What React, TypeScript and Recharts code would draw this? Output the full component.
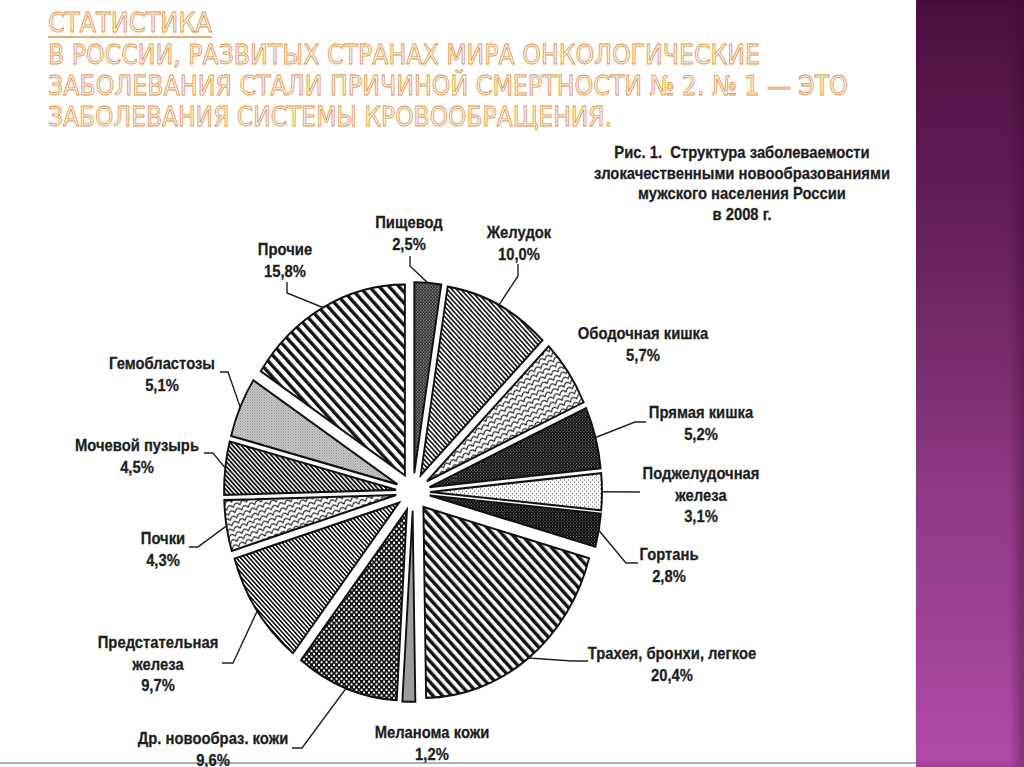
import { PieChart, Pie, Cell, Sector } from "recharts"

// Структура заболеваемости ЗНО мужского населения России, 2008 г.
const categories = [
  "Пищевод",
  "Желудок",
  "Ободочная кишка",
  "Прямая кишка",
  "Поджелудочная железа",
  "Гортань",
  "Трахея, бронхи, легкое",
  "Меланома кожи",
  "Др. новообраз. кожи",
  "Предстательная железа",
  "Почки",
  "Мочевой пузырь",
  "Гемобластозы",
  "Прочие",
]
const shares = [2.5, 10.0, 5.7, 5.2, 3.1, 2.8, 20.4, 1.2, 9.6, 9.7, 4.3, 4.5, 5.1, 15.8]
// how each label is broken into lines
const labelLines = [
  ["Пищевод"],
  ["Желудок"],
  ["Ободочная кишка"],
  ["Прямая кишка"],
  ["Поджелудочная", "железа"],
  ["Гортань"],
  ["Трахея, бронхи, легкое"],
  ["Меланома кожи"],
  ["Др. новообраз. кожи"],
  ["Предстательная", "железа"],
  ["Почки"],
  ["Мочевой пузырь"],
  ["Гемобластозы"],
  ["Прочие"],
]
const chartTitle = [
  "Рис. 1.\u00a0 Структура заболеваемости",
  "злокачественными новообразованиями",
  "мужского населения России",
  "в 2008 г.",
]
const slideTitle = [
  "СТАТИСТИКА",
  "В РОССИИ, РАЗВИТЫХ СТРАНАХ МИРА ОНКОЛОГИЧЕСКИЕ",
  "ЗАБОЛЕВАНИЯ СТАЛИ ПРИЧИНОЙ СМЕРТНОСТИ № 2. № 1 — ЭТО",
  "ЗАБОЛЕВАНИЯ СИСТЕМЫ КРОВООБРАЩЕНИЯ.",
]

const chartData = categories.map((name, i) => ({ name, value: shares[i] }))

// layout (page px): label centre and leader elbow points
const SY = 1.11
const W = 915
const H = 767 / SY
const RADIUS = 172
const EXPLODE = 17
const LABEL_LAYOUT: { tx: number; ty: number; leader: number[][] }[] = [
  { tx: 409, ty: 222, leader: [[410, 256], [410, 266]] },
  { tx: 519, ty: 232, leader: [[518, 264], [518, 276]] },
  { tx: 643, ty: 333, leader: [] },
  { tx: 701, ty: 412, leader: [[646, 422], [635, 422]] },
  { tx: 701, ty: 473, leader: [[640, 492]] },
  { tx: 669, ty: 554, leader: [[638, 563], [626, 563]] },
  { tx: 672, ty: 653, leader: [[588, 661], [572, 661]] },
  { tx: 432, ty: 732, leader: [] },
  { tx: 213, ty: 738, leader: [[292, 748], [302, 748]] },
  { tx: 158, ty: 642, leader: [[222, 663], [233, 663]] },
  { tx: 163, ty: 538, leader: [[189, 547], [198, 547]] },
  { tx: 137, ty: 445, leader: [[204, 453], [213, 453]] },
  { tx: 162, ty: 363, leader: [[220, 372], [228, 372]] },
  { tx: 285, ty: 249, leader: [[287, 282], [287, 293]] },
]

const fmt = (v: number) => v.toFixed(1).replace(".", ",") + "%"

const ExplodedSector = (props: any) => {
  const { cx, cy, innerRadius, outerRadius, startAngle, endAngle, midAngle, fill } = props
  const rad = (-midAngle * Math.PI) / 180
  return (
    <Sector
      cx={cx + EXPLODE * Math.cos(rad)}
      cy={cy + EXPLODE * Math.sin(rad)}
      innerRadius={innerRadius}
      outerRadius={outerRadius}
      startAngle={startAngle}
      endAngle={endAngle}
      fill={fill}
      stroke="#111"
      strokeWidth={1.9}
    />
  )
}

const renderLabel = (props: any) => {
  const { cx, cy, midAngle, outerRadius, index } = props
  const L = LABEL_LAYOUT[index]
  const rad = (-midAngle * Math.PI) / 180
  const ax = cx + (outerRadius + EXPLODE) * Math.cos(rad)
  const ay = cy + (outerRadius + EXPLODE) * Math.sin(rad)
  const lines = [...labelLines[index], fmt(shares[index])]
  const pts = L.leader.map(([x, y]) => `${x},${y / SY}`)
  return (
    <g key={"lbl" + index}>
      {pts.length > 0 && (
        <polyline points={[...pts, `${ax},${ay}`].join(" ")} fill="none" stroke="#222" strokeWidth={1.4} />
      )}
      <text
        x={L.tx}
        y={L.ty / SY}
        textAnchor="middle"
        dominantBaseline="central"
        fontFamily="'Liberation Sans', Arial, sans-serif"
        fontWeight="bold"
        fontSize={14.8}
        fill="#1e1e1e"
        stroke="#1e1e1e"
        strokeWidth={0.25}
      >
        {lines.map((ln, k) => (
          <tspan key={k} x={L.tx} dy={k === 0 ? 0 : 19.2}>
            {ln}
          </tspan>
        ))}
      </text>
    </g>
  )
}

const stripe = (id: string, size: number, bar: number, angle: number, color = "#111") => (
  <pattern id={id} width={size} height={size} patternUnits="userSpaceOnUse" patternTransform={`rotate(${angle})`}>
    <rect width={size} height={size} fill="#fff" />
    <rect width={bar} height={size} fill={color} />
  </pattern>
)

const dots = (id: string, size: number, bg: string, dot: string, d: number) => (
  <pattern id={id} width={size} height={size} patternUnits="userSpaceOnUse">
    <rect width={size} height={size} fill={bg} />
    <rect x={0} y={0} width={d} height={d} fill={dot} />
    <rect x={size / 2} y={size / 2} width={d} height={d} fill={dot} />
  </pattern>
)

const wave = (id: string, angle: number) => (
  <pattern id={id} width={7} height={5} patternUnits="userSpaceOnUse" patternTransform={`rotate(${angle})`}>
    <rect width={7} height={5} fill="#fff" />
    <path d="M0 4.5 Q3.5 -1.5 7 4.5" fill="none" stroke="#111" strokeWidth={1} />
  </pattern>
)

export default function App() {
  return (
    <div
      style={{
        position: "fixed",
        left: 0,
        top: 0,
        width: 1024,
        height: 767,
        background: "#fff",
        overflow: "hidden",
      }}
    >
      {/* purple side strip */}
      <div
        style={{
          position: "absolute",
          left: 916,
          top: 0,
          width: 108,
          height: 767,
          background: "linear-gradient(180deg, #4b0e3e 0%, #6a2460 35%, #8f3a86 65%, #b24aa8 100%)",
          boxShadow: "inset -8px 0 8px rgba(60,10,50,0.35)",
        }}
      />
      <div style={{ position: "absolute", left: 0, top: 762, width: 916, height: 2, background: "#a3b1c2" }} />

      {/* slide heading */}
      <svg width={916} height={140} style={{ position: "absolute", left: 0, top: 0 }}>
        {slideTitle.map((t, i) => {
          const ys = [32, 64, 95, 126]
          const lens = [164, 712, 800, 564]
          return (
            <text
              key={i}
              x={48}
              y={ys[i]}
              textLength={lens[i]}
              lengthAdjust="spacingAndGlyphs"
              fontFamily="'DejaVu Sans Condensed', 'DejaVu Sans', sans-serif"
              fontSize={27}
              fill="#fff6ec"
              stroke="#dc9246"
              strokeWidth={0.8}
            >
              {t}
            </text>
          )
        })}
        <line x1={48} x2={212} y1={37} y2={37} stroke="#dc9246" strokeWidth={1.5} />
      </svg>

      {/* chart caption */}
      <svg width={916} height={230} style={{ position: "absolute", left: 0, top: 0 }}>
        <text
          textAnchor="middle"
          fontFamily="'Liberation Sans', Arial, sans-serif"
          fontWeight="bold"
          fontSize={14.8}
          fill="#1e1e1e"
          stroke="#1e1e1e"
          strokeWidth={0.25}
          transform="scale(1,1.06)"
        >
          {chartTitle.map((t, i) => (
            <tspan key={i} x={742} y={(158 + i * 20.7) / 1.06}>
              {t}
            </tspan>
          ))}
        </text>
      </svg>

      <div
        style={{
          position: "absolute",
          left: 0,
          top: 0,
          width: W,
          height: H,
          transform: `scaleY(${SY})`,
          transformOrigin: "0 0",
        }}
      >
        <PieChart width={W} height={H} margin={{ top: 0, right: 0, bottom: 0, left: 0 }}>
          <defs>
            {dots("p0", 3, "#2e2e2e", "#9a9a9a", 1.2)}
            {stripe("p1", 3.2, 1.5, -45)}
            {wave("p2", -25)}
            {dots("p3", 3, "#111", "#8a8a8a", 1)}
            {dots("p4", 4, "#fff", "#333", 0.9)}
            {dots("p5", 3, "#0a0a0a", "#7a7a7a", 1)}
            {stripe("p6", 6.6, 3.3, -45)}
            <pattern id="p7" width={4} height={4} patternUnits="userSpaceOnUse">
              <rect width={4} height={4} fill="#9c9c9c" />
            </pattern>
            <pattern id="p8" width={5} height={5} patternUnits="userSpaceOnUse">
              <rect width={5} height={5} fill="#111" />
              <rect x={0.6} y={0.6} width={1.9} height={1.9} fill="#fff" />
              <rect x={3.1} y={3.1} width={1.9} height={1.9} fill="#fff" />
            </pattern>
            {stripe("p9", 3, 1.5, -45)}
            {wave("p10", -20)}
            {stripe("p11", 3, 1.7, -45)}
            {dots("p12", 2.4, "#d6d6d6", "#5a5a5a", 0.8)}
            {stripe("p13", 7, 3.2, -45)}
          </defs>
          <Pie
            data={chartData}
            dataKey="value"
            nameKey="name"
            cx={413}
            cy={492 / SY}
            innerRadius={0}
            outerRadius={RADIUS}
            startAngle={90}
            endAngle={-270}
            stroke="#111"
            isAnimationActive={false}
            shape={ExplodedSector}
            label={renderLabel}
            labelLine={false}
          >
            {chartData.map((d, i) => (
              <Cell key={d.name} fill={`url(#p${i})`} />
            ))}
          </Pie>
        </PieChart>
      </div>
    </div>
  )
}
